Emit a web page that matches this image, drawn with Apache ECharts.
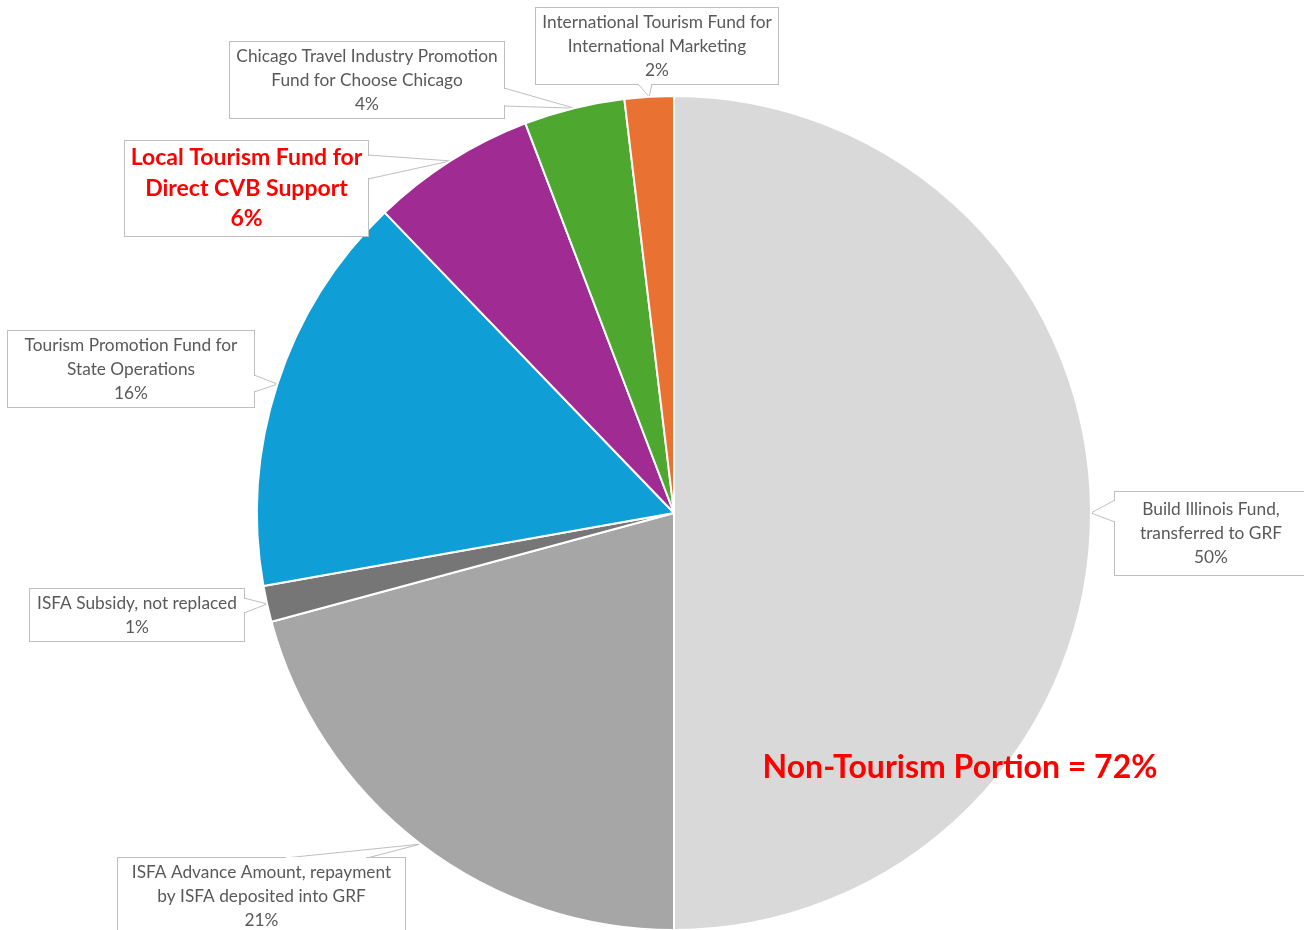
<!DOCTYPE html>
<html><head><meta charset="utf-8">
<script src="https://cdn.jsdelivr.net/npm/echarts@6/dist/echarts.min.js"></script>
<style>html,body{margin:0;padding:0;background:#fff}#c{width:1304px;height:930px}</style>
</head><body><div id="c"></div>
<script>
// ---- data ----
const categories = [
  'Build Illinois Fund,\ntransferred to GRF',
  'ISFA Advance Amount, repayment\nby ISFA deposited into GRF',
  'ISFA Subsidy, not replaced',
  'Tourism Promotion Fund for\nState Operations',
  'Local Tourism Fund for\nDirect CVB Support',
  'Chicago Travel Industry Promotion\nFund for Choose Chicago',
  'International Tourism Fund for\nInternational Marketing'
];
const shares = [50, 20.8, 1.4, 15.6, 6.4, 3.9, 1.9];
const colors = ['#d9d9d9', '#a6a6a6', '#767676', '#0f9ed5', '#a02b93', '#4ea72e', '#e97132'];
const highlightIndex = 4;
const nonTourismNote = 'Non-Tourism Portion = 72%';

// ---- callout layout (label boxes, not data) ----
const FONT = 'Lato';
const boxes = [
  { cx: 1211, cy: 533.5, w: 192, pv: 5.5, base: [[1115, 500], [1115, 522]] },
  { cx: 261.5, cy: 896, w: 287, pv: 2, base: [[285, 858], [367, 858]] },
  { cx: 137, cy: 615, w: 214, pv: 2, base: [[244, 598], [244, 613]] },
  { cx: 131, cy: 369, w: 246, pv: 2, base: [[254, 375], [254, 392]] },
  { cx: 246.5, cy: 188.5, w: 243, pv: 1.75, base: [[368, 155], [368, 179]] },
  { cx: 367, cy: 80, w: 274, pv: 2, base: [[504, 88], [504, 106]] },
  { cx: 657, cy: 46, w: 242, pv: 2, base: [[638, 84], [652, 84]] }
];

const data = categories.map(function (name, i) {
  const item = {
    name: name,
    value: shares[i],
    itemStyle: { color: colors[i] },
    label: { width: boxes[i].w, padding: [boxes[i].pv, 0] }
  };
  if (i === highlightIndex) {
    item.label.color = '#ff0000';
    item.label.fontWeight = 'bold';
    item.label.fontSize = 23;
    item.label.lineHeight = 30.5;
  }
  return item;
});

// white gaps in the callout borders where the pointer opens
const gapLines = boxes.map(function (b) {
  const a = b.base[0], c = b.base[1];
  const vertical = a[0] === c[0];
  const p1 = vertical ? [a[0], a[1] + 1] : [a[0] + 1, a[1]];
  const p2 = vertical ? [c[0], c[1] - 1] : [c[0] - 1, c[1]];
  return {
    type: 'line', z: 100, silent: true,
    shape: { x1: p1[0], y1: p1[1], x2: p2[0], y2: p2[1] },
    style: { stroke: '#ffffff', lineWidth: 2 }
  };
});

const chart = echarts.init(document.getElementById('c'), null, { renderer: 'canvas' });
chart.setOption({
  backgroundColor: '#ffffff',
  animation: false,
  series: [{
    type: 'pie',
    center: [674, 513],
    radius: 417,
    startAngle: 90,
    clockwise: true,
    avoidLabelOverlap: false,
    percentPrecision: 0,
    itemStyle: { borderColor: '#ffffff', borderWidth: 2 },
    label: {
      show: true,
      position: 'outside',
      alignTo: 'none',
      formatter: '{b}\n{d}%',
      fontFamily: FONT,
      fontSize: 17.3,
      lineHeight: 24,
      color: '#595959',
      align: 'center',
      backgroundColor: '#ffffff',
      borderColor: '#bfbfbf',
      borderWidth: 1,
      overflow: 'none'
    },
    labelLine: {
      show: true,
      length: 6,
      length2: 6,
      smooth: false,
      lineStyle: { color: '#bfbfbf', width: 1 }
    },
    labelLayout: function (p) {
      const b = boxes[p.dataIndex];
      const res = { x: b.cx, y: b.cy, align: 'center', verticalAlign: 'middle', hideOverlap: false };
      if (p.labelLinePoints && p.labelLinePoints[0]) {
        res.labelLinePoints = [b.base[0], p.labelLinePoints[0], b.base[1]];
      }
      return res;
    },
    emphasis: { disabled: true },
    data: data
  }],
  graphic: gapLines.concat([{
    type: 'text',
    x: 960,
    y: 768,
    z: 100,
    style: {
      text: nonTourismNote,
      fill: '#ff0000',
      fontFamily: FONT,
      fontSize: 32,
      fontWeight: 'bold',
      align: 'center',
      verticalAlign: 'middle'
    }
  }])
});
</script>
</body></html>
